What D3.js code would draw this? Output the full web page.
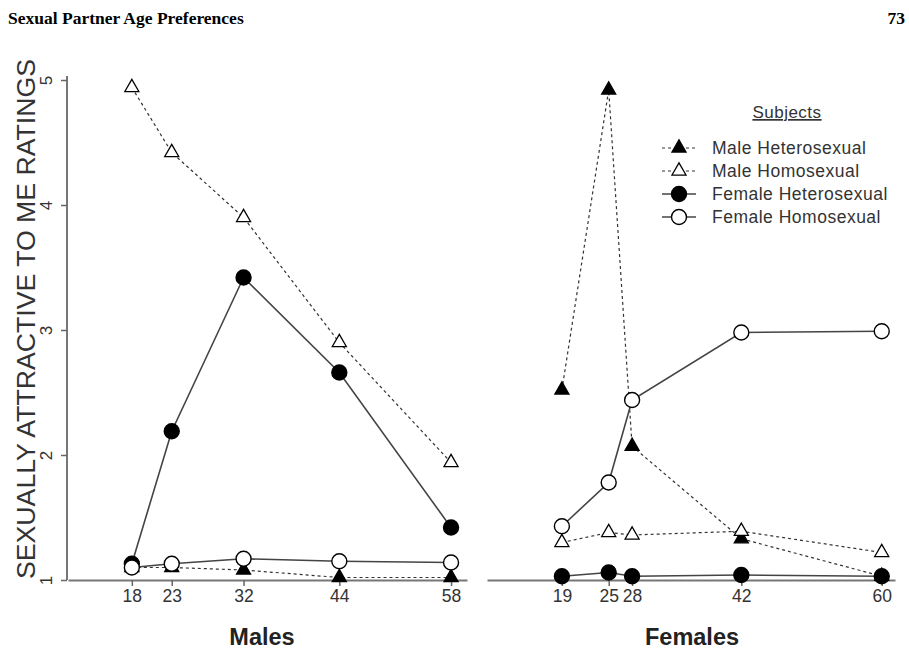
<!DOCTYPE html>
<html>
<head>
<meta charset="utf-8">
<script src="https://cdn.jsdelivr.net/npm/d3@7"></script>
<style>
  body { margin: 0; background: #fff; }
  svg { display: block; font-family: "Liberation Sans", Arial, sans-serif; }
</style>
</head>
<body>
<script>
// ---------------------------------------------------------------------------
// DATA
// ---------------------------------------------------------------------------
const maleAges = [18, 23, 32, 44, 58];
const femaleAges = [19, 25, 28, 42, 60];
const yTicks = [1, 2, 3, 4, 5];

const seriesNames = ['Male Heterosexual', 'Male Homosexual', 'Female Heterosexual', 'Female Homosexual'];

// ratings of the male targets
const malesMaleHet = [1.10, 1.10, 1.08, 1.02, 1.02];
const malesMaleHomo = [4.94, 4.42, 3.90, 2.90, 1.94];
const malesFemaleHet = [1.13, 2.19, 3.42, 2.66, 1.42];
const malesFemaleHomo = [1.10, 1.13, 1.17, 1.15, 1.14];

// ratings of the female targets
const femalesMaleHet = [2.52, 4.92, 2.07, 1.33, 1.03];
const femalesMaleHomo = [1.30, 1.38, 1.36, 1.39, 1.22];
const femalesFemaleHet = [1.03, 1.06, 1.03, 1.04, 1.03];
const femalesFemaleHomo = [1.43, 1.78, 2.44, 2.98, 2.99];

// ---------------------------------------------------------------------------
const width = 909, height = 650;
const styles = [
  { dash: '3,3', line: '#333', lw: 1.2, shape: 'tri', fill: '#000' },
  { dash: '3,3', line: '#333', lw: 1.2, shape: 'tri', fill: '#fff' },
  { dash: null, line: '#444', lw: 1.6, shape: 'circle', fill: '#000' },
  { dash: null, line: '#444', lw: 1.6, shape: 'circle', fill: '#fff' }
];

const svg = d3.select('body').append('svg')
  .attr('width', width)
  .attr('height', height);

// page header
svg.append('text')
  .attr('x', 8).attr('y', 24)
  .style('font-family', '"Liberation Serif", "Times New Roman", serif')
  .style('font-weight', 'bold').style('font-size', '17.5px')
  .text('Sexual Partner Age Preferences');
svg.append('text')
  .attr('x', 905).attr('y', 24).attr('text-anchor', 'end')
  .style('font-family', '"Liberation Serif", "Times New Roman", serif')
  .style('font-weight', 'bold').style('font-size', '17.5px')
  .text('73');

const yScale = d3.scaleLinear().domain([1, 5]).range([580, 80]);

// y axis (left panel only)
const yAxis = svg.append('g').attr('transform', 'translate(67,0)')
  .call(d3.axisLeft(yScale).tickValues(yTicks).tickSize(6).tickFormat(d3.format('d')));
yAxis.select('.domain').attr('stroke', '#777').attr('stroke-width', 2)
  .attr('d', `M0,${yScale(5) - 4}V${yScale(1)}`);
yAxis.selectAll('.tick line').attr('stroke', '#666').attr('stroke-width', 1.5);
yAxis.selectAll('.tick text')
  .attr('x', null).attr('dy', null)
  .attr('text-anchor', 'middle')
  .attr('transform', 'translate(-15,0) rotate(-90)')
  .style('font-size', '17px').attr('fill', '#333');

svg.append('text')
  .attr('transform', 'translate(35,319) rotate(-90)')
  .attr('text-anchor', 'middle')
  .attr('textLength', 520).attr('lengthAdjust', 'spacingAndGlyphs')
  .style('font-size', '25px').attr('fill', '#333')
  .text('SEXUALLY ATTRACTIVE TO ME RATINGS');

const triangle = d3.symbol().type(d3.symbolTriangle).size(85);

function drawMarker(g, shape, fill) {
  if (shape === 'tri') {
    return g.append('path').attr('d', triangle)
      .attr('fill', fill).attr('stroke', '#000').attr('stroke-width', 1.3);
  }
  return g.append('circle').attr('r', 7.5)
    .attr('fill', fill).attr('stroke', '#000').attr('stroke-width', 1.4);
}

function panel(opts) {
  const x = d3.scaleLinear().domain(opts.domain).range(opts.range);
  const g = svg.append('g');

  const xAxis = g.append('g').attr('transform', `translate(0,${yScale(1)})`)
    .call(d3.axisBottom(x).tickValues(opts.ages).tickSize(6).tickSizeOuter(0).tickFormat(d3.format('d')));
  xAxis.select('.domain').attr('stroke', '#777').attr('stroke-width', 2);
  xAxis.selectAll('.tick line').attr('stroke', '#666').attr('stroke-width', 1.5);
  xAxis.selectAll('.tick text').attr('y', 10)
    .style('font-size', '17.5px').attr('fill', '#333');

  const line = d3.line().x((d, i) => x(opts.ages[i])).y(d => yScale(d));

  opts.series.forEach((vals, s) => {
    const st = styles[s];
    g.append('path').datum(vals)
      .attr('d', line)
      .attr('fill', 'none')
      .attr('stroke', st.line)
      .attr('stroke-width', st.lw)
      .attr('stroke-dasharray', st.dash);
  });
  opts.series.forEach((vals, s) => {
    const st = styles[s];
    vals.forEach((v, i) => {
      const m = g.append('g').attr('transform', `translate(${x(opts.ages[i])},${yScale(v)})`);
      drawMarker(m, st.shape, st.fill);
    });
  });

  g.append('text')
    .attr('x', opts.labelX).attr('y', 645)
    .attr('text-anchor', 'middle')
    .style('font-size', '23.5px').style('font-weight', 'bold').attr('fill', '#222')
    .text(opts.label);
}

panel({
  ages: maleAges,
  domain: [10, 60], range: [68, 467],
  series: [malesMaleHet, malesMaleHomo, malesFemaleHet, malesFemaleHomo],
  label: 'Males', labelX: 262
});

panel({
  ages: femaleAges,
  domain: [9.4, 61.7], range: [487, 895],
  series: [femalesMaleHet, femalesMaleHomo, femalesFemaleHet, femalesFemaleHomo],
  label: 'Females', labelX: 692
});

// legend
const legend = svg.append('g').attr('transform', 'translate(662,0)');
legend.append('text')
  .attr('x', 125).attr('y', 118).attr('text-anchor', 'middle')
  .style('font-size', '17px').style('letter-spacing', '0.5px')
  .style('text-decoration', 'underline').attr('fill', '#333')
  .text('Subjects');

seriesNames.forEach((name, i) => {
  const st = styles[i];
  const y = 148 + i * 23;
  const row = legend.append('g').attr('transform', `translate(0,${y})`);
  row.append('line')
    .attr('x1', 0).attr('x2', 34)
    .attr('stroke', st.line).attr('stroke-width', st.lw)
    .attr('stroke-dasharray', st.dash);
  drawMarker(row.append('g').attr('transform', 'translate(17,0)'), st.shape, st.fill);
  row.append('text')
    .attr('x', 50).attr('y', 6)
    .style('font-size', '17.5px').style('letter-spacing', '0.5px').attr('fill', '#333')
    .text(name);
});
</script>
</body>
</html>
